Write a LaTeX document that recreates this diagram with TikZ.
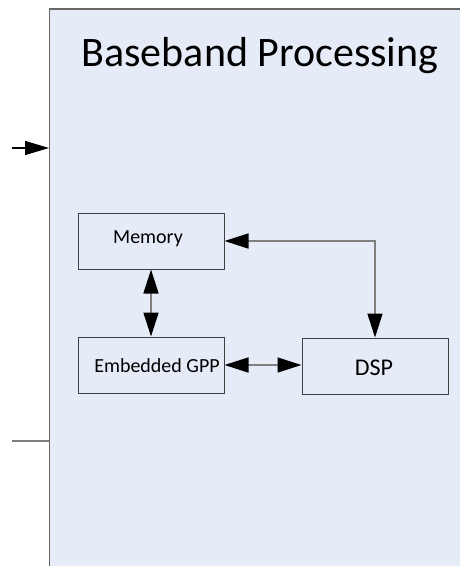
\documentclass[tikz,border=0pt]{standalone}
\usepackage{fontspec}
\setmainfont{Carlito}
\usetikzlibrary{arrows.meta}
\definecolor{panel}{HTML}{E6ECF7}
\definecolor{edge}{HTML}{3F3F3F}
\definecolor{wire}{HTML}{7F7F7F}
\tikzset{
  unit/.style={draw=edge, line width=1pt, fill=panel, minimum width=146pt, minimum height=56pt, inner sep=0pt},
  tip/.tip={Triangle[length=24pt,width=15pt,color=black]},
  link/.style={draw=wire, line width=1.6pt, tip-tip},
}
\begin{document}
\begin{tikzpicture}[x=1pt,y=-1pt]
\useasboundingbox (0,0) rectangle (460,566);
\fill[white] (0,0) rectangle (460,566);
% outer processing block
\fill[panel] (49.5,9) rectangle (470,580);
\draw[draw=wire!80!black, line width=1.6pt] (49.5,580) -- (49.5,9) -- (470,9);
\node (title) at (260,56) {\fontsize{42}{48}\selectfont Baseband Processing};
% inner units
\node[unit] (mem) at (151,241) {};
\node[font=\fontsize{20}{24}\selectfont] (memtxt) at (148,239) {Memory};
\node[unit] (gpp) at (151,365) {};
\node[font=\fontsize{20}{24}\selectfont] (gpptxt) at (157,366) {Embedded GPP};
\node[unit] (dsp) at (375,366) {};
\node[font=\fontsize{24}{28}\selectfont] (dsptxt) at (374,368) {DSP};
% connectors
\draw[link] (mem.south) -- (gpp.north);
\draw[link] (gpp.east) -- (dsp.west |- gpp.east);
\draw[link] (mem.east) -| (dsp.north);
% ports on the block edge
\coordinate (inport) at (12,148);
\coordinate (inedge) at (49,148);
\coordinate (outport) at (12,441);
\coordinate (outedge) at (49,441);
\draw[draw=black, line width=1.3pt, -{Triangle[length=24pt,width=14pt]}] (inport) -- (inedge);
\draw[draw=wire, line width=1.6pt] (outport) -- (outedge);
\end{tikzpicture}
\end{document}
